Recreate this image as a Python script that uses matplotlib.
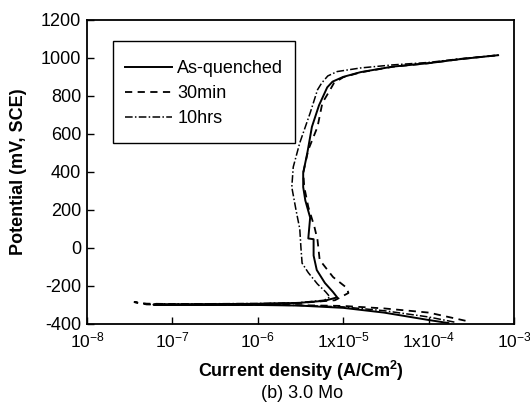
import matplotlib
matplotlib.use('Agg')
import matplotlib.pyplot as plt
from matplotlib.patches import Rectangle
from matplotlib.ticker import FixedLocator, FixedFormatter, NullLocator

plt.rcParams['font.family'] = ['Liberation Sans', 'DejaVu Sans']
plt.rcParams['mathtext.fontset'] = 'custom'
plt.rcParams['mathtext.rm'] = 'Liberation Sans'
plt.rcParams['mathtext.it'] = 'Liberation Sans:italic'
plt.rcParams['mathtext.bf'] = 'Liberation Sans:bold'
plt.rcParams['axes.unicode_minus'] = False

# Polarization curves: cathodic branch -> corrosion potential -> anodic branch
# current density (A/cm2)
i_quenched = [1.7e-4, 1e-4, 3e-5, 1e-5, 3e-6, 1e-6, 3e-7, 1e-7, 6e-8,
              1e-7, 1e-6, 3e-6, 6e-6, 8.5e-6, 7.6e-6, 6.1e-6, 4.9e-6, 4.5e-6,
              4.5e-6, 3.9e-6, 4.1e-6, 3.6e-6, 3.4e-6, 3.4e-6, 3.8e-6, 4.3e-6,
              5.2e-6, 6.5e-6, 7.5e-6, 1e-5, 1.6e-5, 3.8e-5, 1e-4, 2.3e-4, 6.5e-4]
# potential (mV vs SCE)
e_quenched = [-395, -379, -340, -315, -303, -300, -300, -300, -298,
              -296, -294, -289, -278, -260, -232, -184, -116, -40,
              46, 50, 160, 250, 320, 395, 500, 637,
              750, 845, 875, 900, 925, 954, 972, 993, 1014]

i_30min = [2.7e-4, 1e-4, 3e-5, 1e-5, 3e-6, 1e-6, 1e-7, 5e-8, 3.6e-8,
           5e-8, 1e-7, 1e-6, 3e-6, 8e-6, 1.15e-5, 1.1e-5, 7.6e-6, 5.3e-6,
           5e-6, 4.6e-6, 3.9e-6, 3.5e-6, 3.4e-6, 3.9e-6, 5.0e-6, 5.7e-6,
           6.7e-6, 7.8e-6, 1e-5, 1.6e-5, 3.8e-5, 1e-4, 2.3e-4, 6.5e-4]
e_30min = [-383, -340, -318, -305, -301, -300, -300, -297, -285,
           -293, -295, -294, -290, -275, -237, -210, -153, -63,
           42, 111, 216, 320, 395, 516, 637, 763,
           816, 868, 898, 924, 953, 972, 993, 1014]

i_10hrs = [2e-4, 1e-4, 3e-5, 1e-5, 3e-6, 1e-6, 2e-7, 6e-8,
           2e-7, 1e-6, 3e-6, 6e-6, 7e-6, 6.2e-6, 5e-6, 3.9e-6, 3.3e-6,
           3.2e-6, 3.1e-6, 2.8e-6, 2.5e-6, 2.6e-6, 3.1e-6, 4.1e-6, 5e-6,
           5.6e-6, 6.6e-6, 8.5e-6, 1.6e-5, 3.8e-5, 1e-4, 2.3e-4, 6.5e-4]
e_10hrs = [-390, -363, -330, -310, -302, -300, -299, -296,
           -294, -292, -288, -275, -258, -230, -190, -130, -80,
           0, 100, 200, 320, 426, 553, 710, 832,
           868, 905, 928, 947, 963, 976, 995, 1014]

xticks = [1e-8, 1e-7, 1e-6, 1e-5, 1e-4, 1e-3]
xticklabels = [r'$10^{-8}$', r'$10^{-7}$', r'$10^{-6}$',
               r'$1\mathrm{x}10^{-5}$', r'$1\mathrm{x}10^{-4}$', r'$10^{-3}$']
yticks = [-400, -200, 0, 200, 400, 600, 800, 1000, 1200]

fig = plt.figure(figsize=(5.3, 4.05), dpi=100)
ax = fig.add_axes([0.164, 0.2, 0.806, 0.751])

ax.plot(i_quenched, e_quenched, color='black', lw=1.4, ls='-', label='As-quenched')
ax.plot(i_30min, e_30min, color='black', lw=1.3, ls=(0, (4, 3)), label='30min')
ax.plot(i_10hrs, e_10hrs, color='black', lw=1.1, ls=(0, (5, 1.5, 1, 1.5)), label='10hrs')

ax.set_xscale('log')
ax.set_xlim(1e-8, 1e-3)
ax.set_ylim(-400, 1200)
ax.xaxis.set_major_locator(FixedLocator(xticks))
ax.xaxis.set_major_formatter(FixedFormatter(xticklabels))
ax.xaxis.set_minor_locator(NullLocator())
ax.set_yticks(yticks)

ax.tick_params(axis='both', direction='in', length=5, width=1, labelsize=13)
ax.tick_params(axis='y', pad=4)
ax.tick_params(axis='x', pad=4.5, labelsize=12.5)
for s in ax.spines.values():
    s.set_linewidth(1.3)

ax.set_xlabel('Current density (A/Cm$^{\\mathbf{2}}$)', fontsize=13, fontweight='bold', labelpad=6)
ax.set_ylabel('Potential (mV, SCE)', fontsize=13, fontweight='bold', labelpad=10)
fig.text(0.57, 0.028, '(b) 3.0 Mo', ha='center', va='center', fontsize=13)

# legend entries without frame, box drawn separately
leg = ax.legend(loc='upper left', bbox_to_anchor=(0.089, 0.868), borderaxespad=0,
                fontsize=13, frameon=False, borderpad=0,
                handlelength=2.6, handletextpad=0.3, labelspacing=0.45)
ax.add_patch(Rectangle((0.061, 0.595), 0.426, 0.336, transform=ax.transAxes,
                       fill=False, edgecolor='black', lw=1.0, zorder=5))

fig.savefig('out.png', dpi=100)
